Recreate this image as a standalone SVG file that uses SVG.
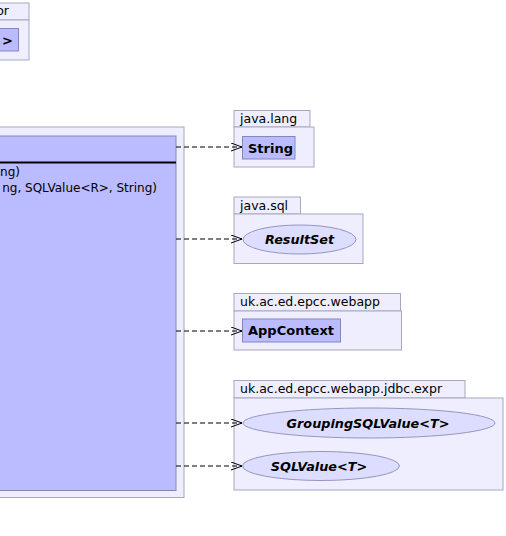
<svg xmlns="http://www.w3.org/2000/svg" width="506" height="536" viewBox="0 0 506 536">
<style>
.pkg{fill:#EEEEFF;stroke:#A8A8C0;stroke-width:1}
.cls{fill:#BBBBFF;stroke:#8686B8;stroke-width:1}
.ifc{fill:#DDDDFF;stroke:#9696BE;stroke-width:1}
.plbl{font-family:"DejaVu Sans",sans-serif;font-size:12.5px;fill:#000}
.cname{font-family:"DejaVu Sans",sans-serif;font-size:13px;font-weight:bold;fill:#000}
.iname{font-family:"DejaVu Sans",sans-serif;font-size:12.8px;font-weight:bold;font-style:italic;fill:#000}
.mtxt{font-family:"DejaVu Sans",sans-serif;font-size:12px;fill:#000}
.dep{stroke:#000;stroke-width:1;stroke-dasharray:5,3;fill:none;marker-end:url(#open)}
</style>
<defs>
<marker id="open" markerWidth="14" markerHeight="10" refX="11" refY="4.5" orient="auto" markerUnits="userSpaceOnUse">
<polyline points="0,0.5 11,4.5 0,8.5" fill="none" stroke="#000" stroke-width="1"/>
</marker>
</defs>
<rect width="506" height="536" fill="#FFFFFF"/>

<g id="pkg-topleft">
<rect class="pkg" x="-10" y="3" width="39" height="17"/>
<rect class="pkg" x="-10" y="20" width="39" height="40"/>
<text class="plbl" x="9" y="15" text-anchor="end">or</text>
<g id="node-topleft">
<rect class="cls" x="-10" y="28.5" width="28.5" height="22.5"/>
<text class="cname" x="13" y="44.5" text-anchor="end">&gt;</text>
</g>
</g>

<g id="pkg-main">
<rect class="pkg" x="-10" y="127" width="194" height="370.5"/>
<g id="node-main">
<rect class="cls" x="-10" y="136" width="186" height="354.5"/>
<line x1="-10" y1="162.5" x2="176" y2="162.5" stroke="#000" stroke-width="2"/>
<text class="mtxt" x="20" y="176" text-anchor="end">ng)</text>
<text class="mtxt" x="157" y="192" text-anchor="end">ng, SQLValue&lt;R&gt;, String)</text>
</g>
</g>

<g id="pkg-java-lang">
<rect class="pkg" x="234" y="110.5" width="76" height="16.5"/>
<rect class="pkg" x="234" y="127" width="80" height="40"/>
<text class="plbl" x="240" y="123">java.lang</text>
<g id="node-String">
<rect class="cls" x="242.5" y="136.5" width="52.5" height="22.5"/>
<text class="cname" x="248" y="152.5">String</text>
</g>
</g>

<g id="pkg-java-sql">
<rect class="pkg" x="234" y="197" width="66.5" height="17"/>
<rect class="pkg" x="234" y="214" width="129" height="49.5"/>
<text class="plbl" x="240" y="210">java.sql</text>
<g id="node-ResultSet">
<ellipse class="ifc" cx="299.5" cy="239.5" rx="56.5" ry="14.5"/>
<text class="iname" x="299.5" y="244" text-anchor="middle">ResultSet</text>
</g>
</g>

<g id="pkg-webapp">
<rect class="pkg" x="234" y="293.5" width="166.5" height="17.5"/>
<rect class="pkg" x="234" y="311" width="167.5" height="39"/>
<text class="plbl" x="240" y="306">uk.ac.ed.epcc.webapp</text>
<g id="node-AppContext">
<rect class="cls" x="242.5" y="319" width="98" height="23"/>
<text class="cname" x="248" y="335">AppContext</text>
</g>
</g>

<g id="pkg-expr">
<rect class="pkg" x="234" y="380.5" width="231" height="17.5"/>
<rect class="pkg" x="234" y="398" width="269" height="92"/>
<text class="plbl" x="240" y="393">uk.ac.ed.epcc.webapp.jdbc.expr</text>
<g id="node-GroupingSQLValue">
<ellipse class="ifc" cx="369" cy="423" rx="126" ry="15"/>
<text class="iname" x="368" y="427.5" text-anchor="middle">GroupingSQLValue&lt;T&gt;</text>
</g>
<g id="node-SQLValue">
<ellipse class="ifc" cx="321" cy="466" rx="78.5" ry="14.5"/>
<text class="iname" x="319" y="470.5" text-anchor="middle">SQLValue&lt;T&gt;</text>
</g>
</g>

<g id="connectors">
<line class="dep" x1="176" y1="147" x2="242" y2="147"/>
<line class="dep" x1="176" y1="239" x2="242" y2="239"/>
<line class="dep" x1="176" y1="331" x2="242" y2="331"/>
<line class="dep" x1="176" y1="423" x2="242" y2="423"/>
<line class="dep" x1="176" y1="466" x2="242" y2="466"/>
</g>
</svg>
